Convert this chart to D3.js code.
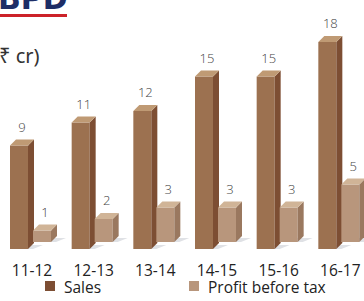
<!DOCTYPE html>
<html>
<head>
<meta charset="utf-8">
<script src="https://cdn.jsdelivr.net/npm/d3@7"></script>
<style>
  body { margin: 0; background: #fff; }
  svg { display: block; }
</style>
</head>
<body>
<svg id="chart" width="364" height="301"></svg>
<script>
// data
const years = ['11-12', '12-13', '13-14', '14-15', '15-16', '16-17'];
const sales = [9, 11, 12, 15, 15, 18];
const profit = [1, 2, 3, 3, 3, 5];
const seriesNames = ['Sales', 'Profit before tax'];

const svg = d3.select('#chart');

// 3d look
const dx = 6, dy = 6, barW = 18;
const salesCol = { front: '#9c7150', side: '#7d4e33', top: '#bf9a74' };
const profitCol = { front: '#b8967c', side: '#9a785f', top: '#d0b497' };

// logo remains at top (cut off in the original)
svg.append('text')
    .attr('x', -2).attr('y', 9)
    .style('font-family', 'DejaVu Sans').style('font-weight', 'bold')
    .style('font-size', '30px').style('fill', '#1d2d66')
    .text('BPD');
svg.append('rect')
    .attr('x', 0).attr('y', 14).attr('width', 67).attr('height', 3)
    .attr('fill', '#cc2229');

// unit label, opening bracket runs off the left edge
svg.append('text')
    .attr('x', -7).attr('y', 63)
    .style('font-family', 'Noto Sans')
    .style('font-size', '20px').style('fill', '#333')
    .text('(₹ cr)');

const x = d3.scaleBand().domain(years).range([0, 370]);
const y = d3.scaleLinear().domain([0, 18]).range([249, 42]);

const g = svg.append('g').attr('class', 'bars');

function bar3d(sel, left, base, val, col) {
  const top = base - (y(0) - y(val));
  const right = left + barW;
  // floor shadow
  sel.append('polygon')
      .attr('points', [[left, base], [right + 5, base], [right + dx + 9, base - dy + 2], [left + dx, base - dy + 2]].join(' '))
      .attr('fill', '#dfe1e5');
  sel.append('rect')
      .attr('x', left).attr('y', top)
      .attr('width', barW).attr('height', base - top)
      .attr('fill', col.front);
  sel.append('polygon')
      .attr('points', [[right, top], [right + dx, top - dy], [right + dx, base - dy], [right, base]].join(' '))
      .attr('fill', col.side);
  sel.append('polygon')
      .attr('points', [[left, top], [left + dx, top - dy], [right + dx, top - dy], [right, top]].join(' '))
      .attr('fill', col.top);
  sel.append('text')
      .attr('x', left + barW / 2 + dx / 2)
      .attr('y', top - dy - 8)
      .attr('text-anchor', 'middle')
      .style('font-family', 'Open Sans').style('font-weight', 300)
      .style('font-size', '13px').style('fill', '#444')
      .text(val);
}

years.forEach((yr, i) => {
  const grp = g.append('g');
  bar3d(grp, x(yr) + 10, y(0), sales[i], salesCol);
  bar3d(grp, x(yr) + 33, y(0) - 7, profit[i], profitCol);
});

// category labels
svg.append('g').selectAll('text')
    .data(years).enter()
    .append('text')
    .attr('x', d => x(d) + 32)
    .attr('y', 276)
    .attr('text-anchor', 'middle')
    .style('font-family', 'Open Sans')
    .style('font-size', '15.5px').style('fill', '#222')
    .text(d => d);

// legend
const legend = svg.append('g').attr('class', 'legend');
const legX = [45, 189];
const legCol = [salesCol.side, profitCol.front];
seriesNames.forEach((name, i) => {
  legend.append('rect')
      .attr('x', legX[i]).attr('y', 281)
      .attr('width', 10).attr('height', 10)
      .attr('fill', legCol[i]);
  legend.append('text')
      .attr('x', legX[i] + 19).attr('y', 293)
      .style('font-family', 'Open Sans')
      .style('font-size', '15.5px').style('fill', '#222')
      .text(name);
});
</script>
</body>
</html>
